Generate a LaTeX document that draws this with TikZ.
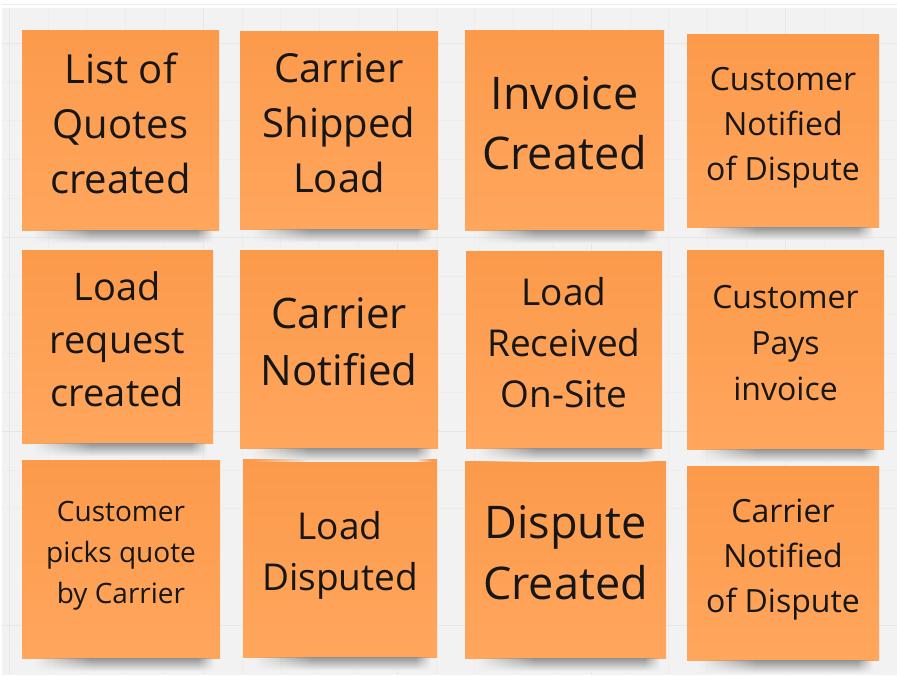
\documentclass[tikz,border=0pt]{standalone}
\usepackage{fontspec}
\setmainfont{Open Sans}
\usetikzlibrary{positioning,calc,fadings}

\definecolor{board}{HTML}{F2F2F2}
\definecolor{gridmajor}{HTML}{E6E6E6}
\definecolor{gridminor}{HTML}{EDEDED}
\definecolor{notetop}{HTML}{FC9A4B}
\definecolor{notebot}{HTML}{FFA65D}
\definecolor{notetext}{HTML}{161616}

\tikzfading[name=fade in, left color=transparent!100, right color=transparent!0]
\tikzfading[name=fade out, left color=transparent!0, right color=transparent!100]

\begin{document}
\begin{tikzpicture}[x=1pt,y=-1pt,
    sticky/.style={rectangle, inner sep=0pt, top color=notetop, bottom color=notebot,
        align=center, text=notetext, text depth=14pt},
    curl/.style={top color=black!42, middle color=black!52, bottom color=board}]
    %Board - sizes in px of the screenshot
    %===========================================================
    \def \W {897}; %picture width
    \def \H {675}; %picture height
    \def \Grid {194}; %major grid step
    \def \Sh {13}; %shadow depth below a note
    \useasboundingbox (0,0) rectangle (\W,\H);
    \fill[white] (0,0) rectangle (\W,\H);
    \fill[board] (2,8) rectangle (\W,\H);
    \foreach \gx in {0,...,22} \draw[gridminor, line width=0.6pt] (9+\gx*\Grid/5,8) -- ++(0,\H-8);
    \foreach \gy in {0,...,17} \draw[gridminor, line width=0.6pt] (2,43+\gy*\Grid/5-\Grid) -- ++(\W-2,0);
    \foreach \gx in {0,...,4} \draw[gridmajor, line width=0.8pt] (9+\gx*\Grid,8) -- ++(0,\H-8);
    \foreach \gy in {0,...,3} \draw[gridmajor, line width=0.8pt] (2,43+\gy*\Grid) -- ++(\W-2,0);

    %=============================================================================================================
    %Sticky notes, row by row (centre, size, text size)
    %=============================================================================================================
    %row 1
    \node[sticky, minimum width=197, minimum height=200, font=\fontsize{40}{55}\selectfont] (quotes) at (120.5,130) {List of\\Quotes\\created};
    \node[sticky, minimum width=198, minimum height=198, font=\fontsize{40}{55}\selectfont] (shipped) at (339,130) {Carrier\\Shipped\\Load};
    \node[sticky, minimum width=199, minimum height=200, font=\fontsize{45}{60}\selectfont] (invoice) at (564.5,130) {Invoice\\Created};
    \node[sticky, minimum width=192, minimum height=193, font=\fontsize{32}{45}\selectfont] (custdispute) at (783,130.5) {Customer\\Notified\\of Dispute};
    %row 2
    \node[sticky, minimum width=191, minimum height=193, font=\fontsize{38}{53}\selectfont] (request) at (117.5,346.5) {Load\\request\\created};
    \node[sticky, minimum width=198, minimum height=198, font=\fontsize{42}{57}\selectfont] (carrnotified) at (339,349) {Carrier\\Notified};
    \node[sticky, minimum width=196, minimum height=197, font=\fontsize{37}{51}\selectfont] (received) at (564,349.5) {Load\\Received\\On-Site};
    \node[sticky, minimum width=197, minimum height=199, font=\fontsize{32}{46}\selectfont] (pays) at (785.5,349.5) {Customer\\Pays\\invoice};
    %row 3
    \node[sticky, minimum width=198, minimum height=198, font=\fontsize{28}{41}\selectfont] (picks) at (121,559) {Customer\\picks quote\\by Carrier};
    \node[sticky, minimum width=194, minimum height=198, font=\fontsize{37}{51}\selectfont] (disputed) at (340,558) {Load\\Disputed};
    \node[sticky, minimum width=201, minimum height=197, font=\fontsize{45}{61}\selectfont] (dispcreated) at (565.5,559.5) {Dispute\\Created};
    \node[sticky, minimum width=192, minimum height=194, font=\fontsize{32}{45}\selectfont] (carrdispute) at (783,563) {Carrier\\Notified\\of Dispute};

    %Curled-paper shadows under every note: ramp in, plateau, ramp out
    \foreach \n in {quotes,shipped,invoice,custdispute,request,carrnotified,received,pays,picks,disputed,dispcreated,carrdispute}{
        \shade[curl, path fading=fade in] ([xshift=12pt]\n.south west) rectangle ([xshift=70pt,yshift=-\Sh pt]\n.south west);
        \shade[curl] ([xshift=69.5pt]\n.south west) rectangle ([xshift=-21.5pt,yshift=-\Sh pt]\n.south east);
        \shade[curl, path fading=fade out] ([xshift=-22pt]\n.south east) rectangle ([xshift=-6pt,yshift=-\Sh pt]\n.south east);
    }
\end{tikzpicture}
\end{document}
